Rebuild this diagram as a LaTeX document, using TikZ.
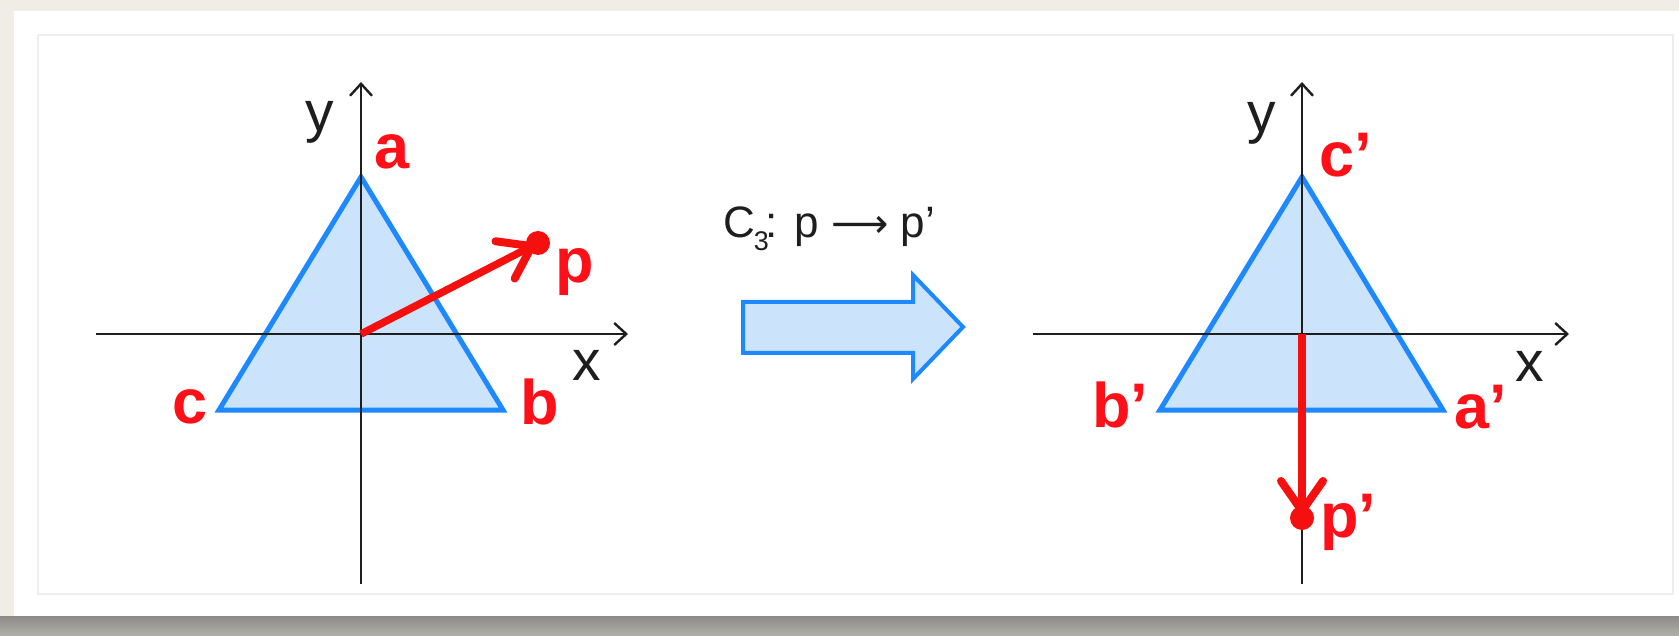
\documentclass[tikz,border=0pt]{standalone}
\usepackage{fontspec}
\setmainfont{Liberation Sans}
\newfontfamily\dejavu{DejaVu Sans}
\usetikzlibrary{arrows.meta}
\definecolor{triblue}{RGB}{30,136,255}
\definecolor{trifill}{RGB}{204,228,251}
\definecolor{lblred}{RGB}{255,16,24}
\definecolor{arrred}{RGB}{245,16,16}
\definecolor{axisk}{RGB}{30,30,30}
\definecolor{bgbeige}{RGB}{240,237,231}
\definecolor{shadowtop}{RGB}{140,139,135}
\definecolor{shadowbot}{RGB}{178,176,171}
\definecolor{framegray}{RGB}{238,238,238}
\begin{document}
\begin{tikzpicture}[x=1pt,y=-1pt,
  axis/.style={draw=axisk, line width=2.4pt, -{Straight Barb[length=12pt,width=22pt,line width=2.4pt]}},
  tri/.style={draw=triblue, fill=trifill, line width=5pt},
  vec/.style={draw=arrred, line width=7.5pt, -{Straight Barb[length=30pt,width=42pt,line width=8pt,round]}},
  dotmark/.style={circle, fill=arrred, minimum size=24pt, inner sep=0pt},
  lbl/.style={text=lblred, font=\fontsize{63}{63}\selectfont\bfseries, inner sep=0pt},
  axlbl/.style={text=axisk, font=\fontsize{57}{57}\selectfont, inner sep=0pt},
  bigarrow/.style={draw=triblue, fill=trifill, line width=4pt},
]
\useasboundingbox (0,0) rectangle (1679,636);
% background
\fill[bgbeige] (0,0) rectangle (1679,636);
\shade[top color=shadowtop, bottom color=shadowbot] (0,616) rectangle (1679,636);
\fill[white] (14,11) rectangle (1679,616);
\draw[framegray, line width=1.5pt] (38,35) rectangle (1673,594);

% ---- left figure ----
\coordinate (o1) at (361,334);
\coordinate (a1) at (361,177);
\coordinate (b1) at (503,410);
\coordinate (c1) at (219,410);
\coordinate (xs1) at (96,334);
\coordinate (xe1) at (628,334);
\coordinate (ys1) at (361,584);
\coordinate (ye1) at (361,82);
\draw[tri] (a1) -- (b1) -- (c1) -- cycle;
\draw[axis] (xs1) -- (xe1);
\draw[axis] (ys1) -- (ye1);
\node[dotmark] (p1) at (538,243) {};
\draw[vec, shorten >=3pt] (o1) -- (p1.center);
\node[axlbl] (ly1) at (320,122) {y};
\node[axlbl] (lx1) at (587,365) {x};
\node[lbl] (la1) at (392,152) {a};
\node[lbl] (lb1) at (540,402) {b};
\node[lbl] (lc1) at (190,407) {c};
\node[lbl] (lp1) at (575,272) {p};

% ---- middle arrow ----
\node[text=axisk, font=\fontsize{44}{44}\selectfont, inner sep=0pt, anchor=base] (op) at (829,238)
  {C\kern-1pt{\fontsize{27}{27}\selectfont\raisebox{-13pt}{3}}\kern-3pt: p {\dejavu\fontsize{40}{40}\selectfont ⟶} p’};
\draw[bigarrow] (743,302) -- (913,302) -- (913,275) -- (963,327) -- (913,379) -- (913,353) -- (743,353) -- cycle;

% ---- right figure ----
\coordinate (o2) at (1302,334);
\coordinate (c2) at (1302,177);
\coordinate (a2) at (1443,410);
\coordinate (b2) at (1160,410);
\coordinate (xs2) at (1033,334);
\coordinate (xe2) at (1569,334);
\coordinate (ys2) at (1302,584);
\coordinate (ye2) at (1302,82);
\draw[tri] (c2) -- (a2) -- (b2) -- cycle;
\draw[axis] (xs2) -- (xe2);
\draw[axis] (ys2) -- (ye2);
\node[dotmark] (p2) at (1302,518) {};
\draw[vec, shorten >=3pt] (o2) -- (p2.center);
\node[axlbl] (ly2) at (1262,123) {y};
\node[axlbl] (lx2) at (1530,366) {x};
\node[lbl] (lc2) at (1346,155) {c’};
\node[lbl] (la2) at (1481,407) {a’};
\node[lbl] (lb2) at (1120,405) {b’};
\node[lbl] (lp2) at (1348,522) {p’};
\end{tikzpicture}
\end{document}
